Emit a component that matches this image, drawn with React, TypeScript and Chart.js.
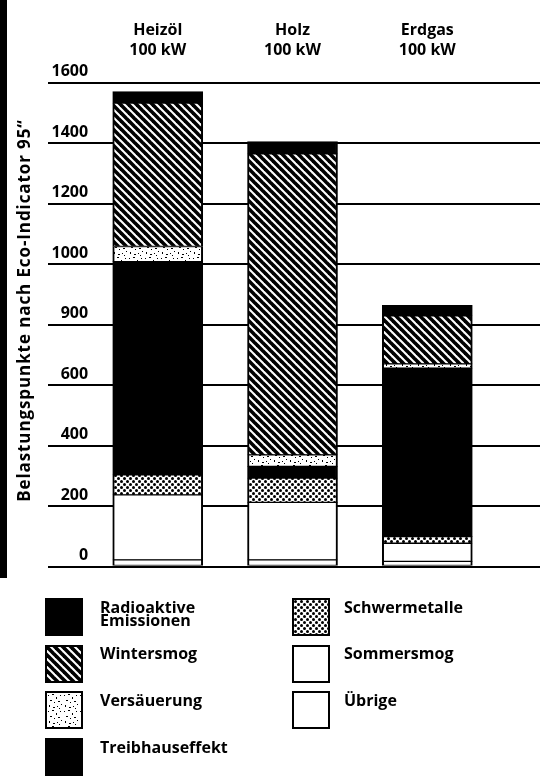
import React, { useEffect, useMemo, useRef } from 'react';
import { Chart, registerables } from 'chart.js';

Chart.register(...registerables);

// ---------- data ----------
const categories = ['Heizöl', 'Holz', 'Erdgas'];
const capacities = ['100 kW', '100 kW', '100 kW'];
const yTickLabels = ['0', '200', '400', '600', '900', '1000', '1200', '1400', '1600'];
const yTitle = 'Belastungspunkte nach Eco-Indicator 95“';

// legend order (top of the stack first)
const seriesNames = [
  'Radioaktive Emissionen',
  'Wintersmog',
  'Versäuerung',
  'Treibhauseffekt',
  'Schwermetalle',
  'Sommersmog',
  'Übrige',
];
const radioaktive = [38, 41, 34];
const wintersmog = [474, 995, 159];
const versauerung = [50, 38, 14];
const treibhaus = [705, 39, 557];
const schwermetalle = [66, 80, 22];
const sommersmog = [215, 190, 60];
const uebrige = [22, 22, 17];
const seriesValues = [radioaktive, wintersmog, versauerung, treibhaus, schwermetalle, sommersmog, uebrige];

// ---------- styles ----------
const seriesFill = ['solid', 'hatch', 'speckle', 'solid', 'dots', 'white', 'white'];
const FONT = "'Open Sans', 'DejaVu Sans', sans-serif";

const specks: [number, number, number, number][] = [
  [1, 2, 1, 1], [5, 1, 2, 1], [9, 4, 1, 2], [13, 2, 1, 1], [3, 7, 2, 1], [7, 9, 1, 1],
  [11, 8, 2, 1], [14, 11, 1, 1], [2, 12, 1, 2], [6, 14, 2, 1], [10, 13, 1, 1], [12, 15, 1, 1],
];

function makeTile(kind: string): HTMLCanvasElement {
  const c = document.createElement('canvas');
  const size = kind === 'hatch' ? 8 : kind === 'dots' ? 6 : 16;
  c.width = size;
  c.height = size;
  const g = c.getContext('2d')!;
  g.fillStyle = '#fff';
  g.fillRect(0, 0, size, size);
  g.fillStyle = '#000';
  g.strokeStyle = '#000';
  if (kind === 'hatch') {
    g.lineWidth = 3.6;
    for (const off of [-8, 0, 8]) {
      g.beginPath();
      g.moveTo(off - 2, -2);
      g.lineTo(off + 10, 10);
      g.stroke();
    }
  } else if (kind === 'dots') {
    for (const [cx, cy] of [[1.5, 1.5], [4.5, 4.5]]) {
      g.beginPath();
      g.arc(cx, cy, 1.5, 0, Math.PI * 2);
      g.fill();
    }
  } else {
    for (const [x, y, w, h] of specks) g.fillRect(x, y, w, h);
  }
  return c;
}

const yTitlePlugin = {
  id: 'yTitleText',
  afterDraw(chart: any) {
    const { ctx, chartArea } = chart;
    ctx.save();
    ctx.translate(25, (chartArea.top + chartArea.bottom) / 2 - 14);
    ctx.rotate(-Math.PI / 2);
    ctx.font = `bold 17px ${FONT}`;
    try { (ctx as any).letterSpacing = '0.9px'; } catch (e) { /* ignore */ }
    ctx.textAlign = 'center';
    ctx.textBaseline = 'middle';
    ctx.fillStyle = '#000';
    ctx.fillText(yTitle, 0, 0);
    ctx.restore();
  },
};

export default function App() {
  const ref = useRef<HTMLCanvasElement>(null);
  const tiles = useMemo(
    () => ({ hatch: makeTile('hatch'), dots: makeTile('dots'), speckle: makeTile('speckle') }),
    []
  );

  useEffect(() => {
    const canvas = ref.current!;
    const ctx = canvas.getContext('2d')!;
    const fillFor = (kind: string): any => {
      if (kind === 'solid') return '#000';
      if (kind === 'white') return '#fff';
      return ctx.createPattern((tiles as any)[kind], 'repeat');
    };
    const datasets = seriesNames
      .map((name, i) => ({
        label: name,
        data: seriesValues[i].map((v, j) => ({ x: j + 1, y: v })),
        backgroundColor: fillFor(seriesFill[i]),
        borderColor: '#000',
        borderWidth: { left: 2, right: 2, top: 1, bottom: 1 },
        borderSkipped: false,
        barThickness: 90,
      }))
      .reverse();

    const chart = new Chart(ctx, {
      type: 'bar',
      data: { datasets } as any,
      options: {
        animation: false,
        responsive: false,
        maintainAspectRatio: false,
        layout: { padding: { left: 0, right: 11, top: 0, bottom: 215.5 } },
        plugins: { legend: { display: false }, tooltip: { enabled: false }, title: { display: false } },
        scales: {
          x: {
            type: 'linear',
            position: 'top',
            offset: false,
            min: 0.186,
            max: 3.836,
            stacked: true,
            grid: { display: false, offset: false },
            border: { display: false },
            afterBuildTicks: (s: any) => {
              s.ticks = categories.map((_, i) => ({ value: i + 1 }));
            },
            afterFit: (s: any) => {
              s.height = 82.5;
            },
            ticks: {
              autoSkip: false,
              maxRotation: 0,
              minRotation: 0,
              padding: 14.5,
              color: '#000',
              font: { family: FONT, size: 16, weight: 'bold', lineHeight: 1.25 },
              callback: (v: any) => {
                const i = Math.round(Number(v)) - 1;
                return [categories[i], capacities[i]];
              },
            },
          },
          y: {
            type: 'linear',
            min: 0,
            max: 1600,
            stacked: true,
            grid: { color: '#000', lineWidth: 2, drawTicks: false },
            border: { display: false },
            afterFit: (s: any) => {
              s.width = 48;
            },
            ticks: {
              stepSize: 200,
              mirror: true,
              crossAlign: 'far',
              padding: 3.5,
              labelOffset: -11,
              color: '#000',
              font: { family: FONT, size: 16, weight: 'bold' },
              callback: (_v: any, i: number) => yTickLabels[i],
            },
          },
        },
      } as any,
      plugins: [yTitlePlugin],
    });
    return () => chart.destroy();
  }, [tiles]);

  const swatchStyle = (kind: string): React.CSSProperties => {
    const base: React.CSSProperties = {
      position: 'absolute',
      width: 38,
      height: 38,
      boxSizing: 'border-box',
      border: '2px solid #000',
      background: '#fff',
    };
    if (kind === 'solid') return { ...base, background: '#000' };
    if (kind === 'white') return base;
    return { ...base, backgroundImage: `url(${(tiles as any)[kind].toDataURL()})` };
  };

  return (
    <div
      style={{
        position: 'fixed',
        left: 0,
        top: 0,
        width: 551,
        height: 782,
        background: '#fff',
        overflow: 'hidden',
        fontFamily: FONT,
      }}
    >
      <canvas ref={ref} width={551} height={782} style={{ position: 'absolute', left: 0, top: 0 }} />
      <div style={{ position: 'absolute', left: 0, top: 0, width: 7, height: 578, background: '#000' }} />
      {seriesNames.map((name, i) => {
        const col = i < 4 ? 0 : 1;
        const row = col === 0 ? i : i - 4;
        const left = col === 0 ? 45 : 292;
        const top = 598 + row * 46.7;
        return (
          <div key={name} style={{ position: 'absolute', left, top, width: 200, height: 40 }}>
            <div style={{ ...swatchStyle(seriesFill[i]), left: 0, top: 0 }} />
            <div
              style={{
                position: 'absolute',
                left: col === 0 ? 55 : 52,
                top: 2.5,
                width: 135,
                fontSize: 16,
                fontWeight: 700,
                lineHeight: '13.5px',
                color: '#000',
              }}
            >
              {name}
            </div>
          </div>
        );
      })}
    </div>
  );
}
